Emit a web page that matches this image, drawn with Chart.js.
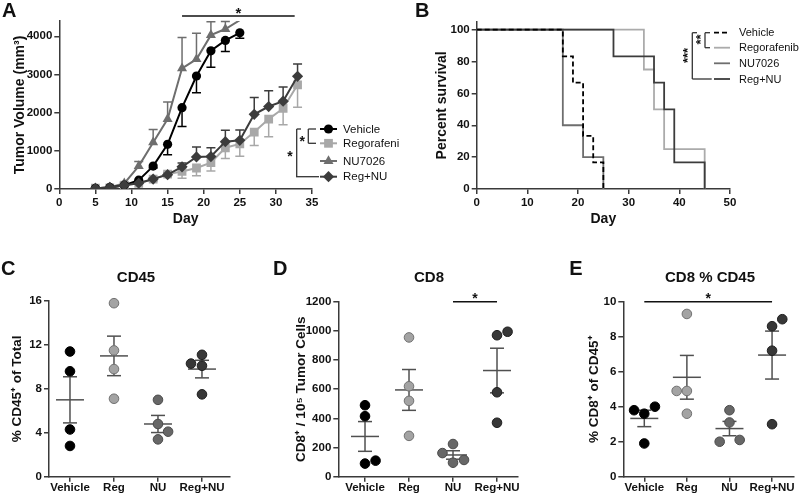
<!DOCTYPE html>
<html>
<head>
<meta charset="utf-8">
<script src="https://cdn.jsdelivr.net/npm/chart.js@4.4.0/dist/chart.umd.min.js"></script>
<style>
  body { margin: 0; background: #fff; width: 800px; height: 494px; position: relative; overflow: hidden; }
  .panel { position: absolute; }
</style>
</head>
<body>
<div class="panel" style="left:0;top:0;width:400px;height:230px"><canvas id="cA"></canvas></div>
<div class="panel" style="left:400px;top:0;width:400px;height:230px"><canvas id="cB"></canvas></div>
<div class="panel" style="left:0;top:250px;width:270px;height:244px"><canvas id="cC"></canvas></div>
<div class="panel" style="left:270px;top:250px;width:270px;height:244px"><canvas id="cD"></canvas></div>
<div class="panel" style="left:540px;top:250px;width:260px;height:244px"><canvas id="cE"></canvas></div>
<script>
// ---- A: tumour volume (mm3) by day, mean with one-sided SEM
var daysA = [5, 7, 9, 11, 13, 15, 17, 19, 21, 23, 25, 27, 29, 31, 33];
var vehA = [20, 40, 100, 230, 600, 1170, 2130, 2960, 3620, 3890, 4090];
var vehSemA = [0, 0, 0, 0, 50, 270, 490, 440, 430, 290, 140];
var regA = [20, 30, 100, 150, 260, 390, 460, 550, 690, 1080, 1180, 1490, 1830, 2110, 2730];
var regSemA = [0, 0, 0, 0, 60, 50, 180, 200, 220, 280, 320, 350, 460, 430, 590];
var nuA = [20, 40, 150, 600, 1220, 1830, 3160, 3400, 4030, 4190, 4420];
var nuSemA = [0, 0, 30, 120, 340, 450, 810, 680, 350, 200, 0];
var rnA = [20, 40, 100, 150, 260, 375, 580, 840, 850, 1240, 1275, 1955, 2160, 2300, 2950];
var rnSemA = [0, 0, 0, 0, 30, 60, 100, 260, 230, 300, 270, 440, 415, 370, 325];
var xTicksA = [0, 5, 10, 15, 20, 25, 30, 35];
var yTicksA = [0, 1000, 2000, 3000, 4000];
var sigA = { from: 17, to: 32.6, y: 4530 };

// ---- B: percent survival
var survVehX = [0, 17, 19, 21, 23, 25], survVehY = [100, 83.3, 66.7, 33.3, 16.7, 0];
var survRegX = [0, 33, 35, 37, 45], survRegY = [100, 75, 50, 25, 0];
var survNuX = [0, 17, 21, 25], survNuY = [100, 40, 20, 0];
var survRnX = [0, 27, 35, 37, 39, 45], survRnY = [100, 83.3, 66.7, 50, 16.7, 0];
var xTicksB = [0, 10, 20, 30, 40, 50];
var yTicksB = [0, 20, 40, 60, 80, 100];

// ---- C/D/E: per-mouse dots, mean and SEM
var groups = ['Vehicle', 'Reg', 'NU', 'Reg+NU'];
var legendA = ['Vehicle', 'Regorafenib', 'NU7026', 'Reg+NU'];

var cd45 = [[11.4, 9.6, 4.3, 2.8], [15.8, 11.5, 9.8, 7.1], [7.0, 4.8, 4.1, 3.4], [11.1, 10.3, 10.1, 7.5]];
var cd45Jit = [[0, 0, 0, 0], [0, 0, 0, 0], [0, 0, 0.23, 0], [0, -0.25, 0, 0]];
var cd45Mean = [7.0, 11.0, 4.8, 9.8];
var cd45Sem = [2.1, 1.8, 0.78, 0.8];
var cd45Ticks = [0, 4, 8, 12, 16];

var cd8 = [[490, 415, 110, 90], [955, 620, 520, 280], [224, 162, 96, 115], [970, 994, 579, 370]];
var cd8Jit = [[0, 0, 0.24, 0], [0, 0, 0, 0], [0, -0.24, 0, 0.25], [0, 0.24, 0, 0]];
var cd8Mean = [276, 595, 149, 728];
var cd8Sem = [102, 140, 29, 153];
var cd8Ticks = [0, 200, 400, 600, 800, 1000, 1200];

var cd8pct = [[3.8, 3.6, 4.0, 1.9], [9.3, 4.9, 4.9, 3.6], [3.8, 3.1, 2.0, 2.1], [9.0, 8.6, 7.2, 3.0]];
var cd8pctJit = [[-0.24, 0, 0.25, 0], [0, -0.24, 0, 0], [0, 0, -0.23, 0.24], [0.24, 0, 0, 0]];
var cd8pctMean = [3.33, 5.68, 2.75, 6.95];
var cd8pctSem = [0.47, 1.25, 0.41, 1.37];
var cd8pctTicks = [0, 2, 4, 6, 8, 10];

Chart.defaults.font.family = "'Liberation Sans', Arial, Helvetica, sans-serif";
Chart.defaults.color = '#111';
var AXC = '#3a3a3a';
var FONT = "'Liberation Sans', Arial, sans-serif";
var seriesCol = ['#000000', '#a8a8a8', '#6e6e6e', '#3c3c3c'];
var dotFill = ['#000000', '#a3a3a3', '#676767', '#373737'];
var dotEdge = ['#000000', '#707070', '#4a4a4a', '#1e1e1e'];

function seg(ctx, x1, y1, x2, y2, color, w, dash) {
    ctx.beginPath();
    ctx.setLineDash(dash || []);
    ctx.strokeStyle = color;
    ctx.lineWidth = w;
    ctx.moveTo(x1, y1);
    ctx.lineTo(x2, y2);
    ctx.stroke();
    ctx.setLineDash([]);
}

function txt(ctx, s, x, y, font, align, base, rot) {
    ctx.save();
    ctx.translate(x, y);
    if (rot) ctx.rotate(rot);
    ctx.font = font;
    ctx.fillStyle = '#111';
    ctx.textAlign = align || 'left';
    ctx.textBaseline = base || 'middle';
    ctx.fillText(s, 0, 0);
    ctx.restore();
}

function marker(ctx, style, x, y, r, color) {
    ctx.beginPath();
    ctx.fillStyle = color;
    if (style === 'circle') {
        ctx.arc(x, y, r, 0, Math.PI * 2);
    } else if (style === 'rect') {
        ctx.rect(x - r * 0.707, y - r * 0.707, r * 1.414, r * 1.414);
    } else if (style === 'triangle') {
        ctx.moveTo(x, y - r);
        ctx.lineTo(x + r * 0.866, y + r * 0.5);
        ctx.lineTo(x - r * 0.866, y + r * 0.5);
    } else {
        ctx.moveTo(x, y - r);
        ctx.lineTo(x + r, y);
        ctx.lineTo(x, y + r);
        ctx.lineTo(x - r, y);
    }
    ctx.closePath();
    ctx.fill();
}

function axisX(min, max, ticks, title, titlePad, height, labelCb, tickPad) {
    return {
        type: 'linear', min: min, max: max,
        afterBuildTicks: function (s) { s.ticks = ticks.map(function (v) { return { value: v }; }); },
        afterFit: function (s) { s.height = height; s.paddingLeft = 0; s.paddingRight = 0; },
        grid: { display: true, drawOnChartArea: false, drawTicks: true, tickLength: 5, color: AXC, lineWidth: 1.5 },
        border: { display: true, color: AXC, width: 1.5 },
        ticks: {
            font: { size: 11.5, weight: 'bold' }, color: '#111', padding: tickPad === undefined ? 2 : tickPad,
            maxRotation: 0, autoSkip: false,
            callback: labelCb || function (v) { return String(v); }
        },
        title: title ? { display: true, text: title, color: '#111', font: { size: 14, weight: 'bold' }, padding: { top: 0, bottom: titlePad } } : { display: false }
    };
}

function axisY(max, ticks, title, titleSize, titlePad, width) {
    return {
        type: 'linear', min: 0, max: max,
        afterBuildTicks: function (s) { s.ticks = ticks.map(function (v) { return { value: v }; }); },
        afterFit: function (s) { s.width = width; s.paddingTop = 0; s.paddingBottom = 0; },
        grid: { display: true, drawOnChartArea: false, drawTicks: true, tickLength: 5, color: AXC, lineWidth: 1.5 },
        border: { display: true, color: AXC, width: 1.5 },
        ticks: { font: { size: 11.5, weight: 'bold' }, color: '#111', padding: 2, autoSkip: false, callback: function (v) { return String(v); } },
        title: { display: true, text: title, color: '#111', font: { size: titleSize, weight: 'bold' }, padding: { top: titlePad, bottom: 0 } }
    };
}

var baseOpts = function (pad) {
    return {
        animation: false, responsive: true, maintainAspectRatio: false, events: [],
        layout: { padding: pad },
        plugins: { legend: { display: false }, tooltip: { enabled: false } }
    };
};

// one-sided error bars for panel A
function errorBars(chart) {
    var ctx = chart.ctx, ys = chart.scales.y;
    ctx.save();
    ctx.beginPath();
    ctx.rect(chart.chartArea.left, chart.chartArea.top - 1, chart.chartArea.width, chart.chartArea.height + 1);
    ctx.clip();
    chart.data.datasets.forEach(function (ds, i) {
        var meta = chart.getDatasetMeta(i);
        meta.data.forEach(function (el, j) {
            var s = ds.sem[j];
            if (!s) return;
            var y2 = ys.getPixelForValue(ds.data[j] + ds.errDir * s);
            seg(ctx, el.x, el.y, el.x, y2, ds.borderColor, 1.5);
            seg(ctx, el.x - 4.5, y2, el.x + 4.5, y2, ds.borderColor, 1.5);
        });
    });
    ctx.restore();
}

// ---------------- Panel A
var styleA = ['circle', 'rect', 'triangle', 'rectRot'];
var radA = [4.6, 6.2, 5.8, 5.6];
new Chart(document.getElementById('cA'), {
    type: 'line',
    data: {
        labels: daysA,
        datasets: [
            { data: rnA, sem: rnSemA, errDir: 1, borderColor: seriesCol[3], backgroundColor: seriesCol[3], pointStyle: 'rectRot', pointRadius: radA[3], borderWidth: 2, pointBorderWidth: 0 },
            { data: vehA, sem: vehSemA, errDir: -1, borderColor: seriesCol[0], backgroundColor: seriesCol[0], pointStyle: 'circle', pointRadius: radA[0], borderWidth: 2, pointBorderWidth: 0 },
            { data: nuA, sem: nuSemA, errDir: 1, borderColor: seriesCol[2], backgroundColor: seriesCol[2], pointStyle: 'triangle', borderWidth: 2, pointBorderWidth: 0,
              pointRadius: function (c) { return c.parsed && c.parsed.y > 4400 ? 0 : radA[2]; } },
            { data: regA, sem: regSemA, errDir: -1, borderColor: seriesCol[1], backgroundColor: seriesCol[1], pointStyle: 'rect', pointRadius: radA[1], borderWidth: 2, pointBorderWidth: 0 }
        ]
    },
    options: Object.assign(baseOpts({ left: 0, right: 88, top: 21, bottom: 0 }), {
        scales: {
            x: axisX(0, 35, xTicksA, 'Day', 2.6, 41),
            y: axisY(4400, yTicksA, 'Tumor Volume (mm\u00B3)', 14, 11.6, 59.3)
        }
    }),
    plugins: [{
        id: 'extrasA',
        beforeDatasetsDraw: errorBars,
        afterDraw: function (chart) {
            var ctx = chart.ctx, xs = chart.scales.x, ys = chart.scales.y;
            txt(ctx, 'A', 2, 11, 'bold 20px ' + FONT);
            var yy = ys.getPixelForValue(sigA.y);
            var x1 = xs.getPixelForValue(sigA.from), x2 = xs.getPixelForValue(sigA.to);
            seg(ctx, x1, yy, x2, yy, '#111', 1.5);
            txt(ctx, '*', (x1 + x2) / 2, yy + 2, 'bold 15px ' + FONT, 'center', 'alphabetic');
            // legend with brackets
            var rows = [129, 143.3, 161, 176.7];
            [0, 1, 2, 3].forEach(function (k) {
                seg(ctx, 320, rows[k], 337, rows[k], seriesCol[k], 2);
                marker(ctx, styleA[k], 328.5, rows[k], radA[k], seriesCol[k]);
                txt(ctx, legendA[k], 343, rows[k] + 0.5, '11.5px ' + FONT);
            });
            seg(ctx, 296.7, rows[0], 296.7, rows[3], '#333', 1.3);
            seg(ctx, 296.7, rows[0], 301, rows[0], '#333', 1.3);
            seg(ctx, 296, rows[3], 319, rows[3], '#333', 1.3);
            seg(ctx, 308.3, rows[0], 308.3, rows[1], '#333', 1.3);
            seg(ctx, 308.3, rows[0], 316, rows[0], '#333', 1.3);
            seg(ctx, 308.3, rows[1], 316, rows[1], '#333', 1.3);
            txt(ctx, '*', 302.3, 146, 'bold 14px ' + FONT, 'center', 'alphabetic');
            txt(ctx, '*', 290, 161, 'bold 14px ' + FONT, 'center', 'alphabetic');
        }
    }]
});

// ---------------- Panel B
function pts(xs, ys) { return xs.map(function (x, i) { return { x: x, y: ys[i] }; }); }
var dashB = [[5, 3], [], [], []];
new Chart(document.getElementById('cB'), {
    type: 'line',
    data: {
        datasets: [
            { data: pts(survVehX, survVehY), borderColor: '#000', borderDash: dashB[0] },
            { data: pts(survRnX, survRnY), borderColor: '#3c3c3c' },
            { data: pts(survNuX, survNuY), borderColor: '#6e6e6e' },
            { data: pts(survRegX, survRegY), borderColor: '#ababab' }
        ].map(function (d) {
            return Object.assign(d, { stepped: true, pointRadius: 0, borderWidth: 1.8, fill: false });
        })
    },
    options: Object.assign(baseOpts({ left: 0, right: 70, top: 21.7, bottom: 0 }), {
        scales: {
            x: axisX(0, 50, xTicksB, 'Day', 2.6, 41),
            y: axisY(105, yTicksB, 'Percent survival', 14, 33.3, 76.7)
        }
    }),
    plugins: [{
        id: 'extrasB',
        afterDraw: function (chart) {
            var ctx = chart.ctx;
            txt(ctx, 'B', 15, 11, 'bold 20px ' + FONT);
            var rows = [32.7, 47.7, 63.3, 79];
            var cols = ['#000', '#ababab', '#6e6e6e', '#3c3c3c'];
            rows.forEach(function (r, k) {
                seg(ctx, 314, r, 330, r, cols[k], 1.8, dashB[k]);
                txt(ctx, legendA[k], 339, r + 0.5, '11px ' + FONT);
            });
            seg(ctx, 292.3, rows[0], 292.3, rows[3], '#333', 1.3);
            seg(ctx, 292.3, rows[0], 297, rows[0], '#333', 1.3);
            seg(ctx, 292.3, rows[3], 311.7, rows[3], '#333', 1.3);
            seg(ctx, 305, rows[0], 305, rows[1], '#333', 1.3);
            seg(ctx, 305, rows[0], 310, rows[0], '#333', 1.3);
            seg(ctx, 305, rows[1], 310, rows[1], '#333', 1.3);
            txt(ctx, '**', 304.5, 39.5, 'bold 13px ' + FONT, 'center', 'alphabetic', -Math.PI / 2);
            txt(ctx, '***', 292, 55.5, 'bold 13px ' + FONT, 'center', 'alphabetic', -Math.PI / 2);
        }
    }]
});

// ---------------- Panels C, D, E
function dotChart(id, cfg) {
    var sets = cfg.vals.map(function (vals, g) {
        return {
            data: vals.map(function (v, i) { return { x: g + 1 + cfg.jit[g][i], y: v }; }),
            pointRadius: 4.8, pointBackgroundColor: dotFill[g], pointBorderColor: dotEdge[g], pointBorderWidth: 1,
            showLine: false, clip: false
        };
    });
    new Chart(document.getElementById(id), {
        type: 'scatter',
        data: { datasets: sets },
        options: Object.assign(baseOpts({ left: 0, right: cfg.padR, top: cfg.padT, bottom: 0 }), {
            scales: {
                x: axisX(cfg.xmin, cfg.xmax, [1, 2, 3, 4], null, 0, 244 - 226.7, function (v) { return groups[v - 1]; }, -1),
                y: axisY(cfg.ymax, cfg.yTicks, cfg.yTitle, 13.5, cfg.yTitlePad, cfg.yWidth)
            }
        }),
        plugins: [{
            id: 'dots',
            beforeDatasetsDraw: function (chart) {
                var ctx = chart.ctx, xs = chart.scales.x, ys = chart.scales.y;
                cfg.mean.forEach(function (m, g) {
                    var cx = xs.getPixelForValue(g + 1);
                    var ym = ys.getPixelForValue(m);
                    var yt = ys.getPixelForValue(m + cfg.sem[g]);
                    var yb = ys.getPixelForValue(m - cfg.sem[g]);
                    seg(ctx, cx - 14, ym, cx + 14, ym, '#505050', 1.5);
                    seg(ctx, cx, yt, cx, yb, '#505050', 1.5);
                    seg(ctx, cx - 7, yt, cx + 7, yt, '#505050', 1.5);
                    seg(ctx, cx - 7, yb, cx + 7, yb, '#505050', 1.5);
                });
            },
            afterDraw: function (chart) {
                var ctx = chart.ctx, xs = chart.scales.x, ys = chart.scales.y;
                txt(ctx, cfg.letter, cfg.letterX, 19, 'bold 20px ' + FONT);
                txt(ctx, cfg.title, cfg.titleX, 28, 'bold 15px ' + FONT, 'center');
                if (cfg.sig) {
                    var yy = ys.getPixelForValue(cfg.sig.y);
                    var x1 = xs.getPixelForValue(cfg.sig.from), x2 = xs.getPixelForValue(cfg.sig.to);
                    seg(ctx, x1, yy, x2, yy, '#111', 1.5);
                    txt(ctx, '*', (x1 + x2) / 2, yy + 1, 'bold 14px ' + FONT, 'center', 'alphabetic');
                }
            }
        }]
    });
}

dotChart('cC', {
    vals: cd45, jit: cd45Jit, mean: cd45Mean, sem: cd45Sem, yTicks: cd45Ticks, ymax: 16,
    xmin: 0.523, xmax: 4.637, padR: 40, padT: 51, yWidth: 49, yTitlePad: 9.6,
    yTitle: '% CD45\u207A of Total', letter: 'C', letterX: 1, title: 'CD45', titleX: 136
});
dotChart('cD', {
    vals: cd8, jit: cd8Jit, mean: cd8Mean, sem: cd8Sem, yTicks: cd8Ticks, ymax: 1200,
    xmin: 0.393, xmax: 4.477, padR: 22, padT: 51.7, yWidth: 68.3, yTitlePad: 23.3,
    yTitle: 'CD8\u207A / 10\u2075 Tumor Cells', letter: 'D', letterX: 3, title: 'CD8', titleX: 159,
    sig: { from: 3, to: 4, y: 1200 }
});
dotChart('cE', {
    vals: cd8pct, jit: cd8pctJit, mean: cd8pctMean, sem: cd8pctSem, yTicks: cd8pctTicks, ymax: 10,
    xmin: 0.507, xmax: 4.52, padR: 0, padT: 51.7, yWidth: 83.3, yTitlePad: 46.6,
    yTitle: '% CD8\u207A of CD45\u207A', letter: 'E', letterX: 29.3, title: 'CD8 % CD45', titleX: 170,
    sig: { from: 1, to: 4, y: 10 }
});
</script>
</body>
</html>
